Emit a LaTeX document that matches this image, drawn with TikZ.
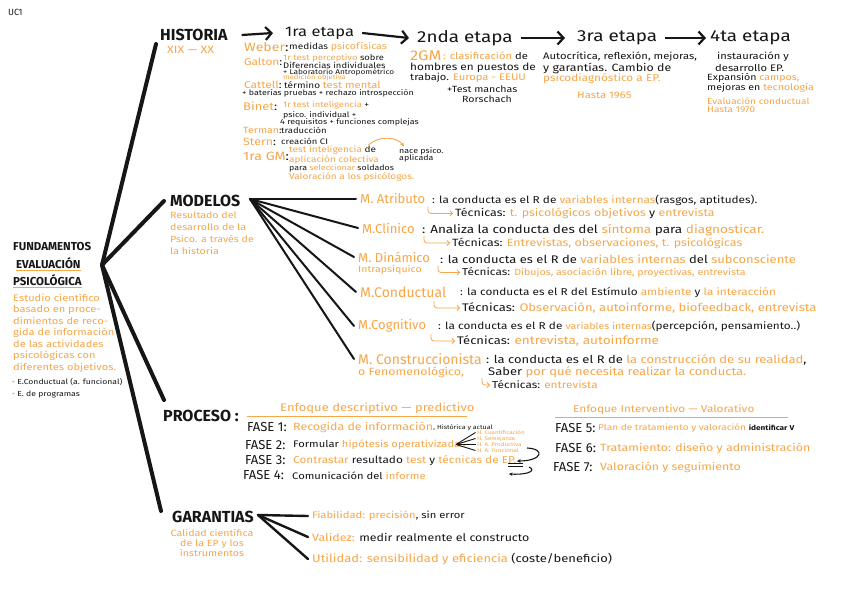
\documentclass[tikz,border=0pt]{standalone}
\usepackage{fontspec}
\setmainfont[FakeStretch=1.18]{Fira Sans}
\newfontfamily\plain{Fira Sans}
\usetikzlibrary{arrows.meta}
\definecolor{orng}{RGB}{247,166,72}
\definecolor{ink}{RGB}{22,22,22}
\newcommand\orn[1]{{\color{orng}#1}}
\newcommand\fsz[1]{\fontsize{#1}{#1}\selectfont}
\begin{document}
\begin{tikzpicture}[x=1pt,y=-1pt,
  tx/.style={anchor=west,inner sep=0pt,text=ink},
  ot/.style={anchor=west,inner sep=0pt,text=orng},
  title/.style={anchor=west,inner sep=0pt,text=ink,font=\plain\fsz{16}\bfseries},
  etapa/.style={anchor=west,inner sep=0pt,text=ink,font=\fsz{16}},
  mname/.style={anchor=west,inner sep=0pt,text=orng,font=\plain\fsz{13}},
  fase/.style={anchor=west,inner sep=0pt,text=ink,font=\plain\fsz{13}},
  trunk/.style={ink,line width=4pt,line cap=round},
  fan/.style={ink,line width=2pt,line cap=round},
  harr/.style={ink,line width=2.2pt,-{Straight Barb[length=6pt,width=13pt]}},
  hook/.style={orng,line width=0.8pt,rounded corners=3pt,-{Straight Barb[length=2.5pt,width=5pt]}},
  uline/.style={orng,line width=1pt}]
\fill[white] (0,0) rectangle (848,599);
\useasboundingbox (0,0) rectangle (848,599);

\node[tx,font=\plain\fsz{9}] (uc) at (8,12) {UC1};

% ---------- trunk
\coordinate (hub) at (102,265);
\coordinate (cH) at (156,44);
\coordinate (cM) at (164,201);
\coordinate (cP) at (164,400);
\coordinate (cG) at (161,511);
\draw[trunk] (hub) -- (cH);
\draw[trunk] (hub) -- (cM);
\draw[trunk] (hub) -- (cP);
\draw[trunk] (hub) -- (cG);

% ---------- fundamentos
\node[tx,font=\plain\fsz{11.5}\bfseries] (f1) at (13,247) {FUNDAMENTOS};
\node[tx,font=\plain\fsz{11.5}\bfseries] (f2) at (16,263) {EVALUACIÓN};
\node[tx,font=\plain\fsz{11.5}\bfseries] (f3) at (13,280) {PSICOLÓGICA};
\draw[uline] ([yshift=-2pt]f2.south west) -- ([yshift=-2pt]f2.south east);
\draw[uline] ([yshift=-2pt]f3.south west) -- ([yshift=-2pt]f3.south east);
\node[ot,font=\fontsize{9.4}{11.5}\selectfont,align=left] (fpara) at (13,333) {Estudio científico\\basado en proce-\\dimientos de reco-\\gida de información\\de las actividades\\psicológicas con\\diferentes objetivos.};
\node[tx,font=\fsz{7.3}] (b1) at (12,382) {\orn{•} E.Conductual (a. funcional)};
\node[tx,font=\fsz{7.3}] (b2) at (12,395) {\orn{•} E. de programas};

% ---------- historia
\node[title] (hist) at (160,35) {HISTORIA};
\node[ot,font=\fsz{10.5}] (xix) at (167,50) {XIX — XX};
\node[etapa,font=\fsz{14}] (e1) at (285,33) {1ra etapa};
\node[etapa] (e2) at (417,38) {2nda etapa};
\node[etapa] (e3) at (577,38) {3ra etapa};
\node[etapa] (e4) at (710,38) {4ta etapa};
\draw[harr] ([xshift=14pt]hist.east) -- ([xshift=-12pt]e1.west);
\draw[harr] ([xshift=8pt]e1.east) -- ([xshift=-8pt]e2.west);
\draw[harr] ([xshift=8pt]e2.east) -- ([xshift=-12pt]e3.west);
\draw[harr] ([xshift=8pt]e3.east) -- ([xshift=-4pt]e4.west);

% 1ra etapa
\node[tx,font=\fsz{12}] (weber) at (244,47.5) {\orn{Weber}:};
\node[tx,font=\fsz{8.5}] (weberT) at (289,47) {medidas \orn{\fsz{9}psicofísicas}};
\node[tx,font=\fsz{10}] (galton) at (244,62) {\orn{Galton}:};
\node[tx,font=\fsz{8}] (gal1) at (283,58) {\orn{1r test perceptivo} sobre};
\node[tx,font=\fsz{8}] (gal2) at (283,65.5) {Diferencias individuales};
\node[tx,font=\fsz{7}] (gal3) at (283,72.5) {+ Laboratorio Antropométrico};
\node[ot,font=\fsz{6.5}] (gal4) at (283,78) {medición objetiva};
\node[tx,font=\fsz{10}] (cattell) at (244,84.5) {\orn{Cattell}:};
\node[tx,font=\fsz{8.5}] (catT) at (284,84.5) {término \orn{\fsz{9.5}test mental}};
\node[tx,font=\fsz{7.5}] (cat2) at (242,93.5) {+ baterías pruebas + rechazo introspección};
\node[tx,font=\fsz{11}] (binet) at (243,106) {\orn{Binet}:};
\node[tx,font=\fsz{8}] (bin1) at (283,105.5) {\orn{1r test inteligencia} +};
\node[tx,font=\fsz{7.5}] (bin2) at (283,115) {psico. individual +};
\node[tx,font=\fsz{7.5}] (bin3) at (280,122.5) {4 requisitos + funciones complejas};
\node[tx,font=\fsz{9}] (terman) at (243,130.5) {\orn{Terman}:};
\node[tx,font=\fsz{8}] (terT) at (281,130.5) {traducción};
\node[tx,font=\fsz{10.5}] (stern) at (243,141.5) {\orn{Stern}:};
\node[tx,font=\fsz{8}] (sterT) at (281,141.5) {creación CI};
\node[tx,font=\fsz{12}] (gm) at (243,156) {\orn{1ra GM}:};
\node[tx,font=\fsz{8.5}] (gm1) at (289,150.5) {\orn{test inteligencia} de};
\node[ot,font=\fsz{8.5}] (gm2) at (289,160) {aplicación colectiva};
\node[tx,font=\fsz{7.5}] (gm3) at (289,168.5) {para \orn{seleccionar} soldados};
\node[ot,font=\fsz{8.5}] (gm4) at (289,177.5) {Valoración a los psicólogos.};
\node[tx,font=\fontsize{7.5}{7.5}\selectfont,align=left] (nace) at (399,155) {nace psico.\\aplicada};
\draw[orng,line width=0.9pt,-{Stealth[length=4pt,width=4pt]}] ([xshift=-8pt,yshift=1pt]gm1.north east) .. controls (378,136) and (396,136) .. ([xshift=5pt,yshift=1pt]nace.north west);

% 2nda etapa
\node[ot,font=\fsz{14}] (gm2a) at (410,56) {2GM};
\node[tx,font=\fsz{9.5}] (gm2b) at (443,56) {\orn{: clasificación} de};
\node[tx,font=\fsz{10}] (s2a) at (410,68) {hombres en puestos de};
\node[tx,font=\fsz{9.5}] (s2b) at (410,78) {trabajo. \orn{Europa - EEUU}};
\node[tx,font=\fsz{9}] (s2c) at (447,89.5) {+Test manchas};
\node[tx,font=\fsz{9}] (s2d) at (462,99.5) {Rorschach};

% 3ra etapa
\node[tx,font=\fsz{9.5}] (s3a) at (543,57) {Autocrítica, reflexión, mejoras,};
\node[tx,font=\fsz{10.5}] (s3b) at (543,68) {y garantías. Cambio de};
\node[ot,font=\fsz{10}] (s3c) at (543,78.5) {psicodiagnóstico a EP.};
\node[ot,font=\fsz{9.5}] (s3d) at (577,95) {Hasta 1965};

% 4ta etapa
\node[tx,font=\fsz{9.5}] (s4a) at (717,57) {instauración y};
\node[tx,font=\fsz{9.5}] (s4b) at (715,68) {desarrollo EP.};
\node[tx,font=\fsz{9}] (s4c) at (707,78) {Expansión \orn{campos,}};
\node[tx,font=\fsz{9}] (s4d) at (707,88) {mejoras en \orn{tecnología}};
\node[ot,font=\fsz{8.5}] (s4e) at (707,101) {Evaluación conductual};
\node[ot,font=\fsz{8.5}] (s4f) at (707,110) {Hasta 1970};

% ---------- modelos
\node[title] (mod) at (170,201) {MODELOS};
\node[ot,font=\fontsize{9}{11.8}\selectfont,align=left] (modd) at (170,233) {Resultado del\\desarrollo de la\\Psico. a través de\\la historia};
\coordinate (mf) at (250,199);
\node[mname] (matr) at (360,199) {M. Atributo};
\node[mname] (mcli) at (362,228) {M.Clínico};
\node[mname] (mdin) at (358,257) {M. Dinámico};
\node[mname,font=\plain\fsz{14}] (mcon) at (360,292) {M.Conductual};
\node[mname] (mcog) at (358,326) {M.Cognitivo};
\node[mname,font=\plain\fsz{14}] (mcst) at (358,359) {M. Construccionista};
\foreach \m in {matr,mcli,mdin,mcon,mcog,mcst}
  \draw[fan] (mf) -- ([xshift=-4pt]\m.west);

\node[tx,font=\fsz{10}] (matrT) at (432,200) {: la conducta es el R de \orn{variables internas}(rasgos, aptitudes).};
\node[tx,font=\fsz{10.5}] (tecA) at (455,213.5) {Técnicas: \orn{t. psicológicos objetivos} y \orn{entrevista}};
\node[tx,font=\fsz{11.5}] (mcliT) at (422,230) {: Analiza la conducta des del \orn{síntoma} para \orn{diagnosticar.}};
\node[tx,font=\fsz{10.5}] (tecB) at (452,243) {Técnicas: \orn{Entrevistas, observaciones, t. psicológicas}};
\node[tx,font=\fsz{11}] (mdinT) at (440,259) {: la conducta es el R de \orn{variables internas} del \orn{subconsciente}};
\node[ot,font=\fsz{9}] (intra) at (358,269.5) {Intrapsíquico};
\node[tx,font=\fsz{10}] (tecC) at (462,272.5) {Técnicas: \orn{\fsz{9}Dibujos, asociación libre, proyectivas, entrevista}};
\node[tx,font=\fsz{10}] (mconT) at (460,293) {: la conducta es el R del Estímulo \orn{ambiente} y \orn{la interacción}};
\node[tx,font=\fsz{11}] (tecD) at (462,308) {Técnicas: \orn{Observación, autoinforme, biofeedback, entrevista}};
\node[tx,font=\fsz{10}] (mcogT) at (438,326) {: la conducta es el R de \orn{\fsz{9}variables internas}(percepción, pensamiento..)};
\node[tx,font=\fsz{11}] (tecE) at (457,341) {Técnicas: \orn{\fsz{11.5}entrevista, autoinforme}};
\node[tx,font=\fsz{11}] (mcstT) at (486,360) {: la conducta es el R de \orn{la construcción de su realidad},};
\node[ot,font=\fsz{10.5}] (fenom) at (358,372.5) {o Fenomenológico,};
\node[tx,font=\fsz{11}] (saber) at (488,372.5) {Saber \orn{por qué necesita realizar la conducta.}};
\node[tx,font=\fsz{10}] (tecF) at (492,385) {Técnicas: \orn{entrevista}};
\foreach \t/\dx in {tecA/27,tecB/28,tecC/24,tecD/28,tecE/26,tecF/10}
  \draw[hook] ([shift={(-\dx pt,7pt)}]\t.west) |- ([xshift=-2pt]\t.west);

% ---------- proceso
\node[title] (proc) at (163,416) {PROCESO :};
\node[ot,font=\fsz{11}] (enf1) at (280,408.5) {Enfoque descriptivo — predictivo};
\draw[uline] (247,416) -- (467,416);
\node[fase] (fs1) at (247,427) {FASE 1:};
\node[ot,font=\fsz{10.5}] (fs1T) at (293,427) {Recogida de información};
\node[tx,font=\fsz{6},anchor=base west] (fs1U) at ([yshift=1pt]fs1T.base east) {, Histórica y actual};
\node[fase] (fs2) at (245,445) {FASE 2:};
\node[tx,font=\fsz{9.5}] (fs2T) at (293,445) {Formular \orn{hipótesis operativizadas}};
\node[fase] (fs3) at (245,460.5) {FASE 3:};
\node[tx,font=\fsz{10}] (fs3T) at (293,460.5) {\orn{Contrastar} resultado \orn{test} y \orn{técnicas de EP.}};
\node[fase] (fs4) at (243,475.5) {FASE 4:};
\node[tx,font=\fsz{9.5}] (fs4T) at (292,475.5) {Comunicación del \orn{informe}};
\coordinate (hf) at (456,444.5);
\node[ot,font=\fsz{5.3}] (h1) at (477,432.5) {H. Cuantificación};
\node[ot,font=\fsz{5.3}] (h2) at (477,438.5) {H. Semejanza};
\node[ot,font=\fsz{5.3}] (h3) at (477,444.5) {H. A. Productiva};
\node[ot,font=\fsz{5.3}] (h4) at (477,450.5) {H. A. Funcional};
\foreach \h in {h1,h2,h3,h4}
  \draw[ink,line width=0.9pt] (hf) -- ([xshift=-1.5pt]\h.west);
\coordinate (cr1) at (527,448);
\coordinate (cr2) at (517,461);
\coordinate (cr3) at (529,467);
\coordinate (cr4) at (509,474);
\draw[ink,line width=1.1pt,-{Stealth[length=3.5pt,width=3.5pt]}] (cr1) .. controls (546,449) and (542,461) .. (cr2);
\draw[ink,line width=1.1pt] (508,463.5) -- (523,463.5);
\draw[ink,line width=1.1pt] (508,466.5) -- (523,466.5);
\draw[ink,line width=1.1pt,-{Stealth[length=3.5pt,width=3.5pt]}] (cr3) .. controls (536,470) and (530,475) .. (cr4);

\node[ot,font=\fsz{10}] (enf2) at (573,410) {Enfoque Interventivo — Valorativo};
\draw[uline] (555,417.5) -- (788,417.5);
\node[fase] (fs5) at (555,428) {FASE 5:};
\node[tx,font=\fsz{8.5}] (fs5T) at (598,428) {\orn{Plan de tratamiento y valoración} {\fsz{7}\bfseries identificar V}};
\node[fase] (fs6) at (555,448) {FASE 6:};
\node[ot,font=\fsz{10.5}] (fs6T) at (600,448) {Tratamiento: diseño y administración};
\node[fase] (fs7) at (553,467) {FASE 7:};
\node[ot,font=\fsz{10.5}] (fs7T) at (600,467) {Valoración y seguimiento};

% ---------- garantias
\node[title] (gar) at (172,517) {GARANTIAS};
\node[text=orng,inner sep=0pt,font=\fontsize{9}{10}\selectfont,align=center] (gard) at (212,543) {Calidad científica\\de la EP y los\\instrumentos};
\coordinate (gf) at (258,515);
\node[tx,font=\fsz{9.5}] (fiab) at (312,516) {\orn{Fiabilidad: precisión}, sin error};
\node[tx,font=\fsz{10.5}] (val) at (312,537) {\orn{Validez:} medir realmente el constructo};
\node[tx,font=\fsz{11}] (util) at (312,559) {\orn{Utilidad: sensibilidad y eficiencia} (coste/beneficio)};
\foreach \g in {fiab,val,util}
  \draw[fan,line width=2.4pt] (gf) -- ([xshift=-4pt]\g.west);
\end{tikzpicture}
\end{document}
